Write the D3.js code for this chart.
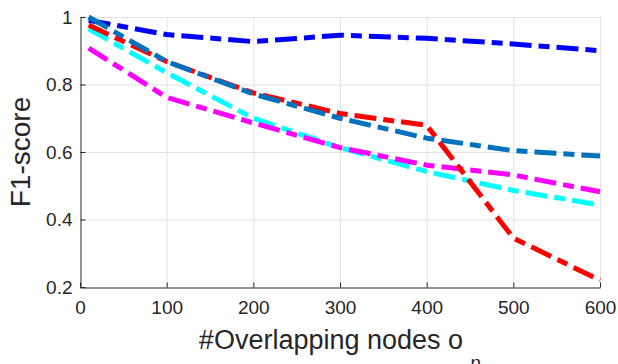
<!DOCTYPE html>
<html>
<head>
<meta charset="utf-8">
<script src="https://cdn.jsdelivr.net/npm/d3@7"></script>
<style>
  body { margin: 0; background: #fff; }
  text { font-family: 'Liberation Sans', Arial, sans-serif; fill: #262626; }
</style>
</head>
<body>
<div id="container"></div>
<script>
// overlapping nodes
const nodes = [10, 100, 200, 300, 400, 500, 600];
const blueVals = [0.99, 0.948, 0.927, 0.946, 0.937, 0.92, 0.90];
const steelVals = [1.0, 0.868, 0.772, 0.70, 0.641, 0.604, 0.588];
const redVals = [0.976, 0.868, 0.775, 0.714, 0.679, 0.345, 0.22];
const cyanVals = [0.965, 0.835, 0.70, 0.613, 0.542, 0.486, 0.443];
const magentaVals = [0.908, 0.762, 0.686, 0.613, 0.561, 0.532, 0.482];
const xTicks = [0, 100, 200, 300, 400, 500, 600];
const yTicks = [0.2, 0.4, 0.6, 0.8, 1];

const series = [
  { name: 'blue', values: blueVals, color: '#0000ff' },
  { name: 'cyan', values: cyanVals, color: '#00ffff' },
  { name: 'magenta', values: magentaVals, color: '#ff00ff' },
  { name: 'red', values: redVals, color: '#ff0000' },
  { name: 'steel', values: steelVals, color: '#0072bd' },
];

const width = 618;
const height = 364;
const margin = { left: 80, right: 18, top: 17, bottom: 77 };

const svg = d3.select('#container')
  .append('svg')
  .attr('width', width)
  .attr('height', height);

const xScale = d3.scaleLinear().domain([0, 600]).range([margin.left, width - margin.right]);
const yScale = d3.scaleLinear().domain([0.2, 1]).range([height - margin.bottom, margin.top]);

// grid
const grid = svg.append('g').attr('stroke', '#e3e3e3').attr('stroke-width', 1);
grid.selectAll('.gx')
  .data(xTicks.slice(1))
  .enter()
  .append('line')
  .attr('x1', (d) => xScale(d) + 0.5)
  .attr('x2', (d) => xScale(d) + 0.5)
  .attr('y1', yScale(1))
  .attr('y2', yScale(0.2));
grid.selectAll('.gy')
  .data(yTicks.slice(1))
  .enter()
  .append('line')
  .attr('x1', xScale(0))
  .attr('x2', xScale(600))
  .attr('y1', (d) => yScale(d) + 0.5)
  .attr('y2', (d) => yScale(d) + 0.5);

// lines
const line = d3.line()
  .x((d, i) => xScale(nodes[i]))
  .y((d) => yScale(d));

svg.append('g')
  .selectAll('path')
  .data(series)
  .enter()
  .append('path')
  .attr('fill', 'none')
  .attr('stroke', (d) => d.color)
  .attr('stroke-width', 5)
  .attr('stroke-dasharray', '22,7,11,7')
  .attr('stroke-linejoin', 'round')
  .attr('d', (d) => line(d.values));

// axes
const xAxis = svg.append('g')
  .attr('transform', `translate(0,${yScale(0.2) + 0.5})`)
  .call(d3.axisBottom(xScale).tickValues(xTicks).tickSizeInner(-5).tickSizeOuter(0).tickPadding(13));
const yAxis = svg.append('g')
  .attr('transform', `translate(${xScale(0) + 0.5},0)`)
  .call(d3.axisLeft(yScale).tickValues(yTicks).tickFormat((d) => (d === 1 ? '1' : d3.format('.1f')(d))).tickSizeInner(-5).tickSizeOuter(0).tickPadding(8));

[xAxis, yAxis].forEach((ax) => {
  ax.select('.domain').attr('stroke', '#262626').attr('stroke-width', 1);
  ax.selectAll('.tick line').attr('stroke', '#262626');
  ax.selectAll('.tick text').attr('font-size', 19).attr('fill', '#262626');
  ax.attr('font-family', null);
});

// labels
svg.append('text')
  .attr('transform', `translate(30,${(yScale(1) + yScale(0.2)) / 2}) rotate(-90)`)
  .attr('text-anchor', 'middle')
  .attr('font-size', 28)
  .text('F1-score');

const xl = svg.append('text')
  .attr('x', (xScale(0) + xScale(600)) / 2)
  .attr('y', 349)
  .attr('text-anchor', 'middle')
  .attr('font-size', 27);
xl.append('tspan').text('#Overlapping nodes o ');
xl.append('tspan').attr('dy', 20).attr('font-size', 19).text('n');
</script>
</body>
</html>
